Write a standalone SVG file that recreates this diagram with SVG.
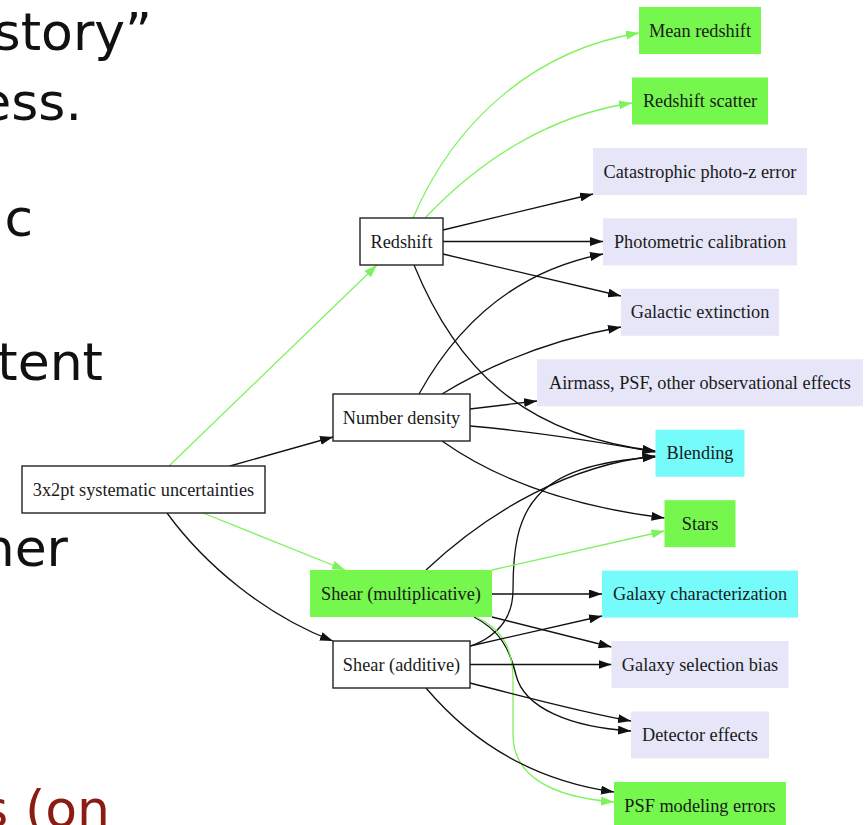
<svg xmlns="http://www.w3.org/2000/svg" width="865" height="825" viewBox="0 0 865 825">
<style>
.bg{font-family:"DejaVu Sans","Verdana",sans-serif;font-size:52px;fill:#111;text-anchor:end}
.lbl{font-family:"Liberation Serif","Times New Roman",serif;font-size:18.3px;fill:#1a1a1a;text-anchor:middle}
.plain{fill:#fff;stroke:#222;stroke-width:1.4}
.green{fill:#76f74e;stroke:none}
.cyan{fill:#76fbfb;stroke:none}
.lav{fill:#e6e6f8;stroke:none}
.e{fill:none;stroke:#111;stroke-width:1.3;marker-end:url(#ab)}
.g{fill:none;stroke:#7ef25c;stroke-width:1.3;marker-end:url(#ag)}
</style>
<defs>
<marker id="ab" viewBox="0 0 13 9" refX="13" refY="4.5" markerWidth="13" markerHeight="9" markerUnits="userSpaceOnUse" orient="auto"><path d="M0,0 L13,4.5 L0,9 z" fill="#111"/></marker>
<marker id="ag" viewBox="0 0 13 9" refX="13" refY="4.5" markerWidth="13" markerHeight="9" markerUnits="userSpaceOnUse" orient="auto"><path d="M0,0 L13,4.5 L0,9 z" fill="#7ef25c"/></marker>
</defs>
<rect width="865" height="825" fill="#fff"/>
<g id="slide-text">
<text class="bg" x="152" y="50">story”</text>
<text class="bg" x="82" y="120">ess.</text>
<text class="bg" x="33" y="236">ic</text>
<text class="bg" x="103" y="380">tent</text>
<text class="bg" x="68" y="566">her</text>
<text class="bg" x="110" y="827" style="fill:#8b1c13">s (on</text>
</g>
<g id="edges">
<path class="g" d="M169,466 L377,265"/>
<path class="e" d="M230,466 C265,456 300,446 333,437"/>
<path class="g" d="M203,513 L345,570"/>
<path class="e" d="M167,513 C205,565 265,615 333,641"/>
<path class="g" d="M413,218 C455,120 535,50 639,33"/>
<path class="g" d="M425,218 C480,160 550,115 632,103"/>
<path class="e" d="M443,230 L593,194"/>
<path class="e" d="M443,241.5 L603,241.5"/>
<path class="e" d="M443,254 L621,296"/>
<path class="e" d="M414,265 C455,365 520,435 655.5,451"/>
<path class="e" d="M419,394 C460,320 520,270 603,254"/>
<path class="e" d="M442,394 C490,365 550,340 621,327"/>
<path class="e" d="M470,409 L537,401"/>
<path class="e" d="M470,426 C540,432 600,442 655.5,452"/>
<path class="e" d="M442,441 C490,475 560,505 664.5,518"/>
<path class="e" d="M426,570 C490,510 570,465 655.5,456"/>
<path class="e" d="M471,646 C500,635 513,615 513,590 C513,510 530,465 655.5,457"/>
<path class="g" d="M492,570 L664.5,531"/>
<path class="e" d="M492,594 L602,594"/>
<path class="e" d="M492,617 L611.5,647"/>
<path class="e" d="M474,617 C500,630 510,650 516,675 C524,708 570,727 631,731"/>
<path class="g" d="M476,617 C500,628 513,645 513,680 L513,735 C513,775 550,797 614,802"/>
<path class="e" d="M470,646 L602,616"/>
<path class="e" d="M470,664.5 L611.5,664.5"/>
<path class="e" d="M470,683 C530,698 580,712 631,721"/>
<path class="e" d="M426,688 C470,740 530,780 614,792"/>
</g>
<g id="n-3x2pt"><rect class="plain" x="22" y="466" width="243" height="47"/><text class="lbl" x="143.5" y="495.5">3x2pt systematic uncertainties</text></g>
<g id="n-redshift"><rect class="plain" x="360" y="218" width="83" height="47"/><text class="lbl" x="401.5" y="247.5">Redshift</text></g>
<g id="n-numdens"><rect class="plain" x="333" y="394" width="137" height="47"/><text class="lbl" x="401.5" y="423.5">Number density</text></g>
<g id="n-shearmult"><rect class="green" x="310" y="570" width="182" height="47"/><text class="lbl" x="401" y="599.5">Shear (multiplicative)</text></g>
<g id="n-shearadd"><rect class="plain" x="333" y="641" width="137" height="47"/><text class="lbl" x="401.5" y="670.5">Shear (additive)</text></g>
<g id="n-meanz"><rect class="green" x="639" y="7" width="122" height="47"/><text class="lbl" x="700" y="36.5">Mean redshift</text></g>
<g id="n-zscatter"><rect class="green" x="632" y="77.5" width="136" height="47"/><text class="lbl" x="700" y="107">Redshift scatter</text></g>
<g id="n-catastrophic"><rect class="lav" x="593" y="148" width="214" height="47"/><text class="lbl" x="700" y="177.5">Catastrophic photo-z error</text></g>
<g id="n-photcal"><rect class="lav" x="603" y="218.4" width="194" height="47"/><text class="lbl" x="700" y="248">Photometric calibration</text></g>
<g id="n-galext"><rect class="lav" x="621" y="288.8" width="158" height="47"/><text class="lbl" x="700" y="318.3">Galactic extinction</text></g>
<g id="n-airmass"><rect class="lav" x="537" y="359.3" width="326" height="47"/><text class="lbl" x="700" y="388.8">Airmass, PSF, other observational effects</text></g>
<g id="n-blending"><rect class="cyan" x="655.5" y="429.7" width="89" height="47"/><text class="lbl" x="700" y="459.2">Blending</text></g>
<g id="n-stars"><rect class="green" x="664.5" y="500.2" width="71" height="47"/><text class="lbl" x="700" y="529.7">Stars</text></g>
<g id="n-galchar"><rect class="cyan" x="602" y="570.6" width="196" height="47"/><text class="lbl" x="700" y="600.1">Galaxy characterization</text></g>
<g id="n-galsel"><rect class="lav" x="611.5" y="641.1" width="177" height="47"/><text class="lbl" x="700" y="670.6">Galaxy selection bias</text></g>
<g id="n-detector"><rect class="lav" x="631" y="711.5" width="138" height="47"/><text class="lbl" x="700" y="741">Detector effects</text></g>
<g id="n-psf"><rect class="green" x="614" y="782" width="172" height="47"/><text class="lbl" x="700" y="811.5">PSF modeling errors</text></g>
</svg>
